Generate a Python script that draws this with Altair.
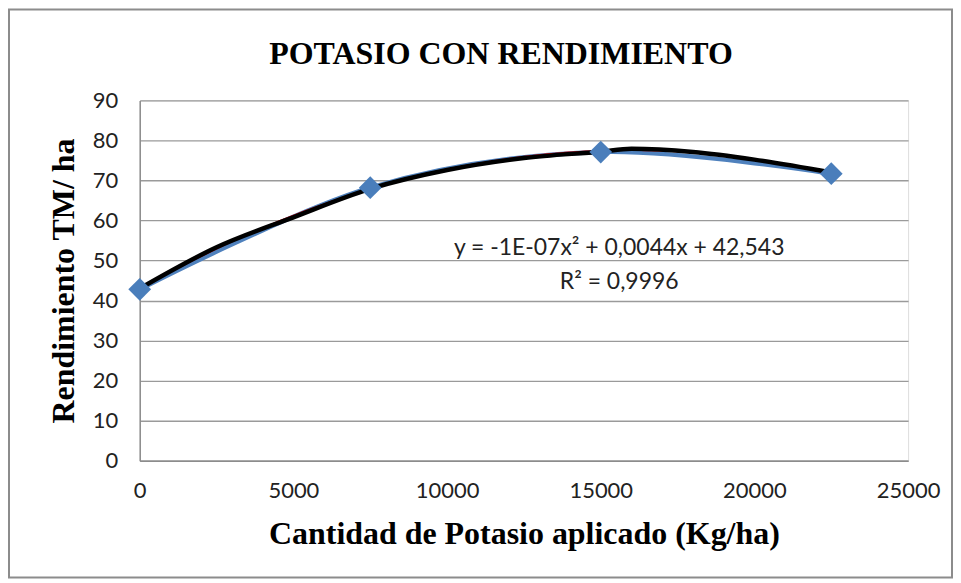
import altair as alt
import pandas as pd

# Observed data (blue series)
potasio = [0, 7500, 15000, 22500]
rendimiento = [42.8, 68.2, 77.1, 71.7]

# Hand-traced black curve
curva_x = [0, 2500, 5000, 7500, 10000, 12500, 15000, 16000, 18000, 20000, 22500]
curva_y = [43.0, 53.3, 60.8, 67.9, 72.6, 75.6, 77.2, 77.9, 77.1, 75.2, 72.0]

titulo = "POTASIO CON RENDIMIENTO"
ecuacion = "y = -1E-07x² + 0,0044x + 42,543"
r2 = "R² = 0,9996"

df = pd.DataFrame({"x": potasio, "y": rendimiento})
dc = pd.DataFrame({"x": curva_x, "y": curva_y, "o": list(range(len(curva_x)))})
dt = pd.DataFrame({"x": [15600, 15600], "y": [53.0, 44.6], "t": [ecuacion, r2]})

xs = alt.Scale(domain=[0, 25000], nice=False)
ys = alt.Scale(domain=[0, 90], nice=False)

xaxis = alt.Axis(values=[0, 5000, 10000, 15000, 20000, 25000], format="d", grid=False, ticks=False,
                 domainColor="#8c8c8c", domainWidth=1.5, labelFont="Lato", labelFontSize=22,
                 labelColor="#222", labelPadding=20, labelFlush=False,
                 title="Cantidad de Potasio aplicado (Kg/ha)", titleFont="Liberation Serif",
                 titleFontSize=32, titleFontWeight="bold", titleColor="#000", titlePadding=17)
yaxis = alt.Axis(values=list(range(0, 91, 10)), grid=True, gridColor="#9a9a9a", gridWidth=1.3,
                 ticks=False, domainColor="#8c8c8c", domainWidth=1.5, labelFont="Lato",
                 labelFontSize=22, labelColor="#222", labelPadding=22,
                 title="Rendimiento TM/ ha", titleFont="Liberation Serif", titleFontSize=32,
                 titleFontWeight="bold", titleColor="#000", titlePadding=12)

base_line = alt.Chart(df).mark_line(color="#4F81BD", strokeWidth=4.5, interpolate="cardinal").encode(
    x=alt.X("x:Q", scale=xs, axis=xaxis), y=alt.Y("y:Q", scale=ys, axis=yaxis))
points = alt.Chart(df).mark_point(shape="diamond", filled=True, size=520, color="#4A7EBB",
                                  opacity=1).encode(x=alt.X("x:Q", scale=xs), y=alt.Y("y:Q", scale=ys))
trend = alt.Chart(df).transform_regression("x", "y", method="poly", order=2, extent=[0, 22500]
    ).mark_line(color="#e00000", strokeWidth=1.5).encode(x=alt.X("x:Q", scale=xs), y=alt.Y("y:Q", scale=ys))
black = alt.Chart(dc).mark_line(color="#000", strokeWidth=4.5, interpolate="monotone").encode(
    x=alt.X("x:Q", scale=xs), y=alt.Y("y:Q", scale=ys), order="o:Q")
texts = alt.Chart(dt).mark_text(font="Lato", fontSize=23, color="#222").encode(
    x=alt.X("x:Q", scale=xs), y=alt.Y("y:Q", scale=ys), text="t:N")
title_mark = alt.Chart(pd.DataFrame({"t": [titulo]})).mark_text(
    font="Liberation Serif", fontSize=32, fontWeight="bold", color="#000", baseline="middle").encode(
    x=alt.value(362), y=alt.value(-46), text="t:N")
frame = alt.Chart(pd.DataFrame({"a": [0]})).mark_rect(fill=None, stroke="#8c8c8c", strokeWidth=2).encode(
    x=alt.value(-131), x2=alt.value(814), y=alt.value(-91), y2=alt.value(478))

chart = alt.layer(frame, title_mark, base_line, trend, black, points, texts).properties(
    width=770, height=361, padding=0,
).configure_view(stroke=None).configure(background="white")

chart.save("out.html", embed_options={"renderer": "svg", "actions": False})
